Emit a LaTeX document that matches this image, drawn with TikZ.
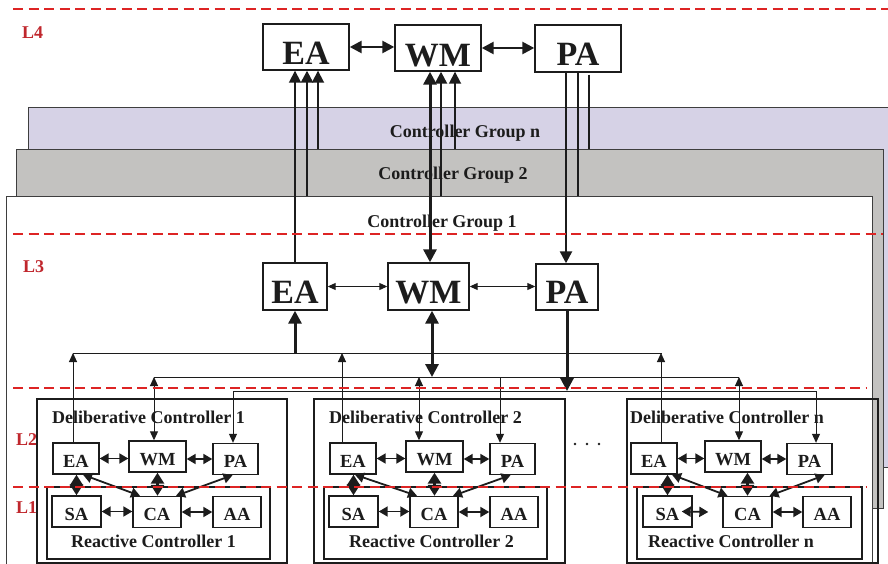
\documentclass[tikz,border=0pt]{standalone}
\usepackage{fontspec}
\setmainfont{Liberation Serif}
\usetikzlibrary{arrows.meta}
\definecolor{lav}{HTML}{D6D2E6}
\definecolor{grp}{HTML}{C3C2C0}
\definecolor{ink}{HTML}{1C1C1C}
\definecolor{lvl}{HTML}{DD2424}
\definecolor{lvltext}{HTML}{C0272D}
\tikzset{
  grouprect/.style={draw=ink!85, line width=0.9pt},
  bigbox/.style={draw=ink, line width=1.4pt, inner sep=0pt, text=ink,
    font=\fontsize{34}{36}\selectfont\bfseries},
  smallbox/.style={draw=ink, line width=1.4pt, inner sep=0pt, text=ink,
    text height=24pt, text depth=7pt, font=\fontsize{18.5}{20}\selectfont\bfseries},
  frame/.style={draw=ink, line width=1.8pt, inner sep=0pt},
  title/.style={font=\fontsize{18}{20}\selectfont\bfseries, text=ink, inner sep=0pt},
  lvlline/.style={draw=lvl, line width=1.8pt, dash pattern=on 10pt off 5.5pt},
  lvllabel/.style={font=\fontsize{18}{20}\selectfont\bfseries, text=lvltext,
    inner sep=0pt, anchor=base west},
  % connectors between the upper levels
  up4/.style={draw=ink, line width=2.4pt, -{Triangle[length=12pt,width=12pt]}},
  upthin4/.style={draw=ink, line width=1.8pt, -{Triangle[length=12pt,width=12pt]}},
  dbl4/.style={draw=ink, line width=2.6pt,
    {Triangle[length=12pt,width=12pt]}-{Triangle[length=12pt,width=12pt]}},
  dbl4v/.style={draw=ink, line width=3pt,
    {Triangle[length=13pt,width=13pt]}-{Triangle[length=13pt,width=13pt]}},
  stem/.style={draw=ink, line width=2.4pt},
  stemthin/.style={draw=ink, line width=1.8pt},
  dbl3/.style={draw=ink, line width=1pt,
    {Triangle[length=8pt,width=7pt]}-{Triangle[length=8pt,width=7pt]}},
  heavy3/.style={draw=ink, line width=3pt, -{Triangle[length=13pt,width=13pt]}},
  heavydbl3/.style={draw=ink, line width=3pt,
    {Triangle[length=13pt,width=13pt]}-{Triangle[length=13pt,width=13pt]}},
  % bus lines and drops to the deliberative controllers
  busline/.style={draw=ink, line width=1pt},
  busarrow/.style={draw=ink, line width=1pt, -{Triangle[length=9pt,width=8pt]}},
  busdbl/.style={draw=ink, line width=1pt,
    {Triangle[length=9pt,width=8pt]}-{Triangle[length=9pt,width=8pt]}},
  % connectors inside a controller
  sdbl/.style={draw=ink, line width=1.8pt,
    {Triangle[length=9pt,width=10pt]}-{Triangle[length=9pt,width=10pt]}},
  hdbl/.style={draw=ink, line width=3pt,
    {Triangle[length=11pt,width=13pt]}-{Triangle[length=11pt,width=13pt]}},
}
\begin{document}
\begin{tikzpicture}[x=1pt,y=-1pt]
\useasboundingbox (0,0) rectangle (888,564);
\clip (0,0) rectangle (888,564);

% stacked controller groups
\draw[grouprect, fill=lav]   (28,107) rectangle (900,467);
\draw[grouprect, fill=grp]   (16,149) rectangle (883,508);
\draw[grouprect, fill=white] (6,196)  rectangle (872,600);

\node[title, anchor=base] (gn) at (465,138) {Controller Group n};
\node[title, anchor=base] (g2) at (453,180) {Controller Group 2};
\node[title, anchor=base] (g1) at (442,227) {Controller Group 1};

% level labels
\node[lvllabel] (l4) at (22,39)  {L4};
\node[lvllabel] (l3) at (23,272) {L3};
\node[lvllabel] (l2) at (16,445) {L2};
\node[lvllabel] (l1) at (16,513) {L1};

% level 4 agents
\node[bigbox, minimum width=86pt, text height=41pt, text depth=5pt] (ea4) at (306,47)   {EA};
\node[bigbox, minimum width=86pt, text height=42pt, text depth=4pt] (wm4) at (438,48)   {WM};
\node[bigbox, minimum width=86pt, text height=41pt, text depth=6pt] (pa4) at (578,48.5) {PA};

% level 3 agents
\node[bigbox, minimum width=64pt, text height=40pt, text depth=7pt] (ea3) at (295,286.5) {EA};
\node[bigbox, minimum width=81pt, text height=40pt, text depth=7pt] (wm3) at (428.5,286.5) {WM};
\node[bigbox, minimum width=62pt, text height=39pt, text depth=7pt] (pa3) at (567,287) {PA};

\draw[dbl4] (ea4.east) -- (ea4.east -| wm4.west);
\draw[dbl4] (wm4.east) -- (wm4.east -| pa4.west);
\draw[dbl3] (ea3.east) -- (ea3.east -| wm3.west);
\draw[dbl3] (wm3.east) -- (wm3.east -| pa3.west);

% links from each group up to level 4
\coordinate (e2) at (307,196);
\coordinate (e3) at (318,149);
\draw[upthin4] (ea3.north) -- (ea3.north |- ea4.south);
\draw[up4] (e2) -- (e2 |- ea4.south);
\draw[upthin4] (e3) -- (e3 |- ea4.south);

\coordinate (w1) at (430,0);
\coordinate (w2) at (441,196);
\coordinate (w3) at (455,149);
\draw[dbl4v] (w1 |- wm3.north) -- (w1 |- wm4.south);
\draw[up4] (w2) -- (w2 |- wm4.south);
\draw[upthin4] (w3) -- (w3 |- wm4.south);

\coordinate (p1) at (566,0);
\coordinate (p2) at (578,196);
\coordinate (p3) at (589,149);
\draw[up4] (p1 |- pa4.south) -- (p1 |- pa3.north);
\draw[stem] (p2 |- pa4.south) -- (p2);
\draw[stemthin] ([yshift=-2pt]p3 |- pa4.south) -- (p3);

% buses between level 3 and the deliberative controllers
\coordinate (bus1w) at (73,353);  \coordinate (bus1e) at (662,353);
\coordinate (bus2w) at (154,377); \coordinate (bus2e) at (739,377);
\coordinate (bus3w) at (233,391); \coordinate (bus3e) at (816,391);
\draw[busline] (bus1w) -- (bus1e);
\draw[busline] (bus2w) -- (bus2e);
\draw[busline] (bus3w) -- (bus3e);
\coordinate (w3b) at (432,377);
\draw[heavy3] (ea3.south |- bus1w) -- (ea3.south);
\draw[heavydbl3] (w3b |- wm3.south) -- (w3b);
\draw[heavy3] (pa3.south) -- (pa3.south |- bus3w);

% deliberative and reactive controller frames
\node[frame, minimum width=250pt, minimum height=164pt] (dc1) at (162,481) {};
\node[frame, minimum width=251pt, minimum height=164pt] (dc2) at (439.5,481) {};
\node[frame, minimum width=251pt, minimum height=164pt] (dcn) at (752.5,481) {};
\node[frame, minimum width=223pt, minimum height=72pt] (rc1) at (158.5,523) {};
\node[frame, minimum width=223pt, minimum height=72pt] (rc2) at (435.5,523) {};
\node[frame, minimum width=225pt, minimum height=72pt] (rcn) at (749.5,523) {};

\node[title, anchor=base west] (dt1) at (52,423)  {Deliberative Controller 1};
\node[title, anchor=base west] (dt2) at (329,423) {Deliberative Controller 2};
\node[title, anchor=base west] (dtn) at (630,423) {Deliberative Controller n};
\node[title, anchor=base west] (rt1) at (71,547)  {Reactive Controller 1};
\node[title, anchor=base west] (rt2) at (349,547) {Reactive Controller 2};
\node[title, anchor=base west] (rtn) at (648,547) {Reactive Controller n};

% agents of controller 1
\node[smallbox, minimum width=46pt] (ea1) at (76,458.5)   {EA};
\node[smallbox, minimum width=57pt] (wm1) at (157.5,456.5) {WM};
\node[smallbox, minimum width=45pt] (pa1) at (235.5,459)   {PA};
\node[smallbox, minimum width=49pt] (sa1) at (76.5,511.5)  {SA};
\node[smallbox, minimum width=48pt] (ca1) at (157,512)     {CA};
\node[smallbox, minimum width=48pt] (aa1) at (237,512)     {AA};

% agents of controller 2
\node[smallbox, minimum width=46pt] (ea2) at (353,458.5)   {EA};
\node[smallbox, minimum width=57pt] (wm2) at (434.5,456.5) {WM};
\node[smallbox, minimum width=45pt] (pa2) at (512.5,459)   {PA};
\node[smallbox, minimum width=49pt] (sa2) at (353.5,511.5) {SA};
\node[smallbox, minimum width=48pt] (ca2) at (434,512)     {CA};
\node[smallbox, minimum width=48pt] (aa2) at (514,512)     {AA};

% agents of controller n
\node[smallbox, minimum width=46pt] (ean) at (654,458.5)   {EA};
\node[smallbox, minimum width=56pt] (wmn) at (733,456.5)   {WM};
\node[smallbox, minimum width=45pt] (pan) at (809.5,459)   {PA};
\node[smallbox, minimum width=49pt] (san) at (667.5,511.5) {SA};
\node[smallbox, minimum width=49pt] (can) at (747.5,512)   {CA};
\node[smallbox, minimum width=48pt] (aan) at (827,512)     {AA};

% drops from the buses
\draw[busarrow] (bus1w |- ea1.north) -- (bus1w);
\draw[busdbl] (bus2w) -- (bus2w |- wm1.north);
\draw[busarrow] (bus3w) -- (bus3w |- pa1.north);
\coordinate (d2e) at (342,353);
\coordinate (d2w) at (419,377);
\coordinate (d2p) at (500,377);
\draw[busarrow] (d2e |- ea2.north) -- (d2e);
\draw[busdbl] (d2w) -- (d2w |- wm2.north);
\draw[busarrow] (d2p) -- (d2p |- pa2.north);
\coordinate (dne) at (661,353);
\draw[busarrow] (dne |- ean.north) -- (dne);
\draw[busdbl] (bus2e) -- (bus2e |- wmn.north);
\draw[busarrow] (bus3e) -- (bus3e |- pan.north);

% links inside controller 1
\draw[sdbl] (ea1.east) -- (ea1.east -| wm1.west);
\draw[sdbl] (pa1.west -| wm1.east) -- (pa1.west);
\draw[sdbl] (sa1.east) -- (sa1.east -| ca1.west);
\draw[sdbl] (ca1.east) -- (ca1.east -| aa1.west);
\draw[hdbl] (sa1.north) -- (sa1.north |- ea1.south);
\draw[hdbl] (wm1.south) -- (wm1.south |- ca1.north);
\draw[sdbl] ([xshift=7pt]ea1.south) -- ([xshift=-17pt]ca1.north);
\draw[sdbl] ([xshift=-3pt]pa1.south) -- ([xshift=19pt]ca1.north);

% links inside controller 2
\draw[sdbl] (ea2.east) -- (ea2.east -| wm2.west);
\draw[sdbl] (pa2.west -| wm2.east) -- (pa2.west);
\draw[sdbl] (sa2.east) -- (sa2.east -| ca2.west);
\draw[sdbl] (ca2.east) -- (ca2.east -| aa2.west);
\draw[hdbl] (sa2.north) -- (sa2.north |- ea2.south);
\draw[hdbl] (wm2.south) -- (wm2.south |- ca2.north);
\draw[sdbl] ([xshift=2pt]ea2.south) -- ([xshift=-17pt]ca2.north);
\draw[sdbl] ([xshift=-2pt]pa2.south) -- ([xshift=19pt]ca2.north);

% links inside controller n
\draw[sdbl] (ean.east) -- (ean.east -| wmn.west);
\draw[sdbl] (pan.west -| wmn.east) -- (pan.west);
\draw[sdbl] ([xshift=-11pt]san.east) -- ([xshift=-14pt]can.west);
\draw[sdbl] (can.east) -- (can.east -| aan.west);
\draw[hdbl] (san.north) -- (san.north |- ean.south);
\draw[hdbl] (can.north |- wmn.south) -- (can.north);
\draw[sdbl] ([xshift=18pt]ean.south) -- ([xshift=-20pt]can.north);
\draw[sdbl] ([xshift=15pt]pan.south) -- ([xshift=22pt]can.north);

% ellipsis between controller 2 and controller n
\fill[ink] (575,444) circle (1.3pt) (587,444) circle (1.3pt) (599,444) circle (1.3pt);

% level separators
\draw[lvlline] (13,9)   -- (888,9);
\draw[lvlline] (13,234) -- (883,234);
\draw[lvlline] (13,388) -- (866,388);
\draw[lvlline] (13,487) -- (867,487);
\end{tikzpicture}
\end{document}
